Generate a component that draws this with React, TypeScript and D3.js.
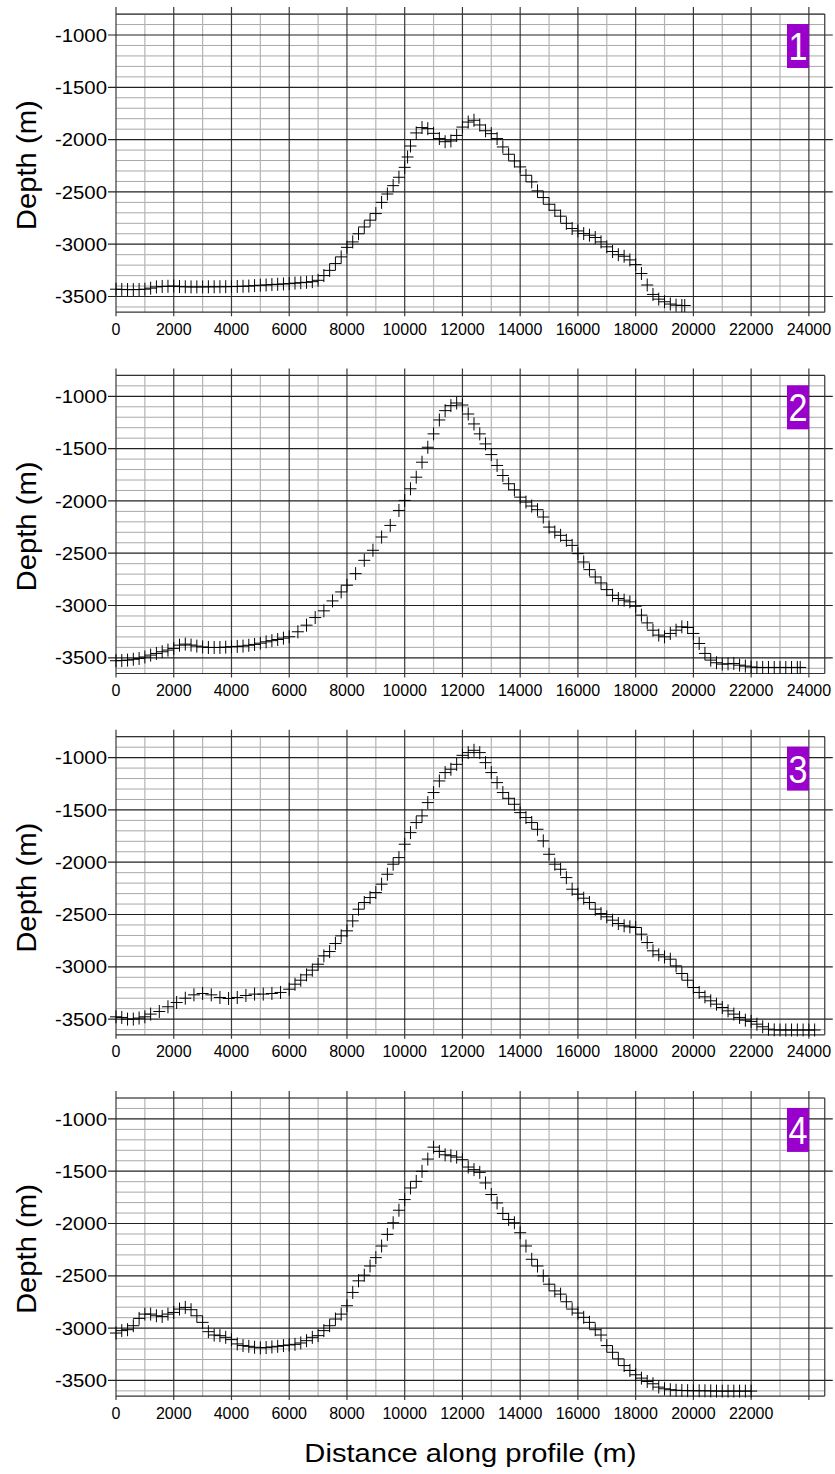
import * as d3 from "d3";

// depth profiles: [distance along profile (m), depth (m)]
const profile1: [number, number][] = [
  [0, -3430], [200, -3432], [400, -3434], [600, -3434], [800, -3433], [1000, -3430],
  [1200, -3420], [1400, -3408], [1600, -3404], [1800, -3402], [2000, -3400], [2200, -3405],
  [2400, -3407], [2600, -3408], [2800, -3408], [3000, -3408], [3200, -3407], [3400, -3407],
  [3600, -3406], [3800, -3406], [4000, -3405], [4200, -3404], [4400, -3402], [4600, -3400],
  [4800, -3396], [5000, -3392], [5200, -3390], [5400, -3386], [5600, -3383], [5800, -3380],
  [6000, -3377], [6200, -3372], [6400, -3368], [6600, -3364], [6800, -3358], [7000, -3345],
  [7200, -3300], [7400, -3250], [7600, -3185], [7800, -3121], [8000, -3030], [8200, -2978],
  [8400, -2900], [8600, -2835], [8800, -2770], [9000, -2707], [9200, -2600], [9400, -2520],
  [9600, -2440], [9800, -2360], [10000, -2265], [10100, -2166], [10200, -2061], [10400, -1936],
  [10600, -1885], [10800, -1895], [11000, -1940], [11200, -1990], [11400, -2020], [11600, -2013],
  [11800, -1960], [12000, -1880], [12200, -1832], [12400, -1815], [12600, -1860], [12800, -1915],
  [13000, -1943], [13200, -1990], [13400, -2070], [13600, -2140], [13800, -2204], [14000, -2261],
  [14200, -2341], [14400, -2404], [14600, -2490], [14800, -2554], [15000, -2618], [15200, -2675],
  [15400, -2732], [15600, -2800], [15800, -2850], [16000, -2873], [16200, -2898], [16400, -2914],
  [16600, -2936], [16800, -2978], [17000, -3025], [17200, -3070], [17400, -3100], [17600, -3115],
  [17800, -3150], [18000, -3195], [18200, -3280], [18400, -3390], [18600, -3480], [18800, -3525],
  [19000, -3550], [19200, -3572], [19400, -3583], [19600, -3586], [19700, -3586],
];

const profile2: [number, number][] = [
  [0, -3528], [200, -3526], [400, -3522], [600, -3514], [800, -3506], [1000, -3492],
  [1200, -3474], [1400, -3458], [1600, -3442], [1800, -3426], [2000, -3410], [2200, -3379],
  [2400, -3369], [2600, -3378], [2800, -3388], [3000, -3396], [3200, -3401], [3400, -3401],
  [3600, -3401], [3800, -3398], [4000, -3394], [4200, -3391], [4400, -3388], [4600, -3380],
  [4800, -3372], [5000, -3360], [5200, -3347], [5400, -3336], [5600, -3325], [5800, -3312],
  [6000, -3299], [6300, -3251], [6600, -3188], [6900, -3115], [7200, -3051], [7500, -2956],
  [7800, -2870], [8000, -2806], [8300, -2695], [8600, -2568], [8900, -2472], [9200, -2345],
  [9500, -2234], [9800, -2091], [10000, -1995], [10200, -1884], [10400, -1773], [10600, -1630],
  [10800, -1487], [11000, -1359], [11200, -1226], [11400, -1137], [11600, -1089], [11800, -1064],
  [12000, -1083], [12200, -1169], [12400, -1264], [12600, -1359], [12800, -1455], [13000, -1557],
  [13200, -1661], [13400, -1757], [13600, -1836], [13800, -1894], [14000, -1964], [14200, -2011],
  [14400, -2049], [14600, -2084], [14800, -2154], [15000, -2250], [15200, -2297], [15400, -2329],
  [15600, -2377], [15800, -2425], [16000, -2504], [16200, -2584], [16400, -2657], [16600, -2727],
  [16800, -2784], [17000, -2848], [17200, -2902], [17400, -2933], [17600, -2949], [17800, -2965],
  [18000, -3007], [18200, -3092], [18400, -3166], [18600, -3236], [18800, -3283], [19000, -3299],
  [19200, -3267], [19400, -3236], [19600, -3204], [19800, -3210], [20000, -3267], [20200, -3363],
  [20400, -3458], [20600, -3522], [20800, -3547], [21000, -3560], [21200, -3558], [21400, -3554],
  [21600, -3570], [21800, -3579], [22000, -3588], [22200, -3592], [22400, -3592], [22600, -3592],
  [22800, -3592], [23000, -3592], [23200, -3592], [23400, -3592], [23600, -3592], [23700, -3592],
];

const profile3: [number, number][] = [
  [0, -3478], [200, -3484], [400, -3500], [600, -3500], [800, -3490], [1000, -3478],
  [1200, -3452], [1500, -3427], [1800, -3382], [2100, -3341], [2400, -3300], [2700, -3268],
  [3000, -3255], [3300, -3268], [3600, -3293], [3900, -3303], [4200, -3293], [4500, -3274],
  [4800, -3261], [5100, -3261], [5400, -3255], [5700, -3245], [6000, -3214], [6200, -3166],
  [6400, -3128], [6600, -3077], [6800, -3032], [7000, -2975], [7200, -2895], [7400, -2854],
  [7600, -2777], [7800, -2704], [8000, -2656], [8200, -2561], [8400, -2449], [8600, -2385],
  [8800, -2338], [9000, -2290], [9200, -2210], [9400, -2115], [9600, -2019], [9800, -1956],
  [10000, -1828], [10200, -1717], [10400, -1621], [10600, -1557], [10800, -1430], [11000, -1334],
  [11200, -1223], [11400, -1143], [11600, -1111], [11800, -1064], [12000, -978], [12200, -952],
  [12400, -930], [12600, -952], [12800, -1048], [13000, -1143], [13200, -1239], [13400, -1334],
  [13600, -1389], [13800, -1446], [14000, -1526], [14200, -1573], [14400, -1621], [14600, -1685],
  [14800, -1796], [15000, -1924], [15200, -2019], [15400, -2067], [15600, -2147], [15800, -2258],
  [16000, -2306], [16200, -2344], [16400, -2385], [16600, -2449], [16800, -2491], [17000, -2522],
  [17200, -2554], [17400, -2586], [17600, -2608], [17800, -2618], [18000, -2624], [18200, -2688],
  [18400, -2768], [18600, -2847], [18800, -2885], [19000, -2905], [19200, -2927], [19400, -2991],
  [19600, -3064], [19800, -3128], [20000, -3198], [20200, -3245], [20400, -3287], [20600, -3325],
  [20800, -3357], [21000, -3389], [21200, -3421], [21400, -3452], [21600, -3484], [21800, -3510],
  [22000, -3522], [22200, -3548], [22400, -3573], [22600, -3596], [22800, -3603], [23000, -3604],
  [23200, -3604], [23400, -3604], [23600, -3604], [23800, -3604], [24000, -3604], [24200, -3604],
];

const profile4: [number, number][] = [
  [0, -3047], [200, -3024], [400, -3015], [600, -2977], [800, -2907], [1000, -2866],
  [1200, -2866], [1400, -2882], [1600, -2888], [1800, -2866], [2000, -2850], [2200, -2818],
  [2400, -2802], [2600, -2824], [2800, -2882], [3000, -2945], [3200, -3034], [3400, -3066],
  [3600, -3072], [3800, -3088], [4000, -3110], [4200, -3151], [4400, -3167], [4600, -3174],
  [4800, -3183], [5000, -3189], [5200, -3186], [5400, -3180], [5600, -3174], [5800, -3167],
  [6000, -3161], [6200, -3155], [6400, -3142], [6600, -3120], [6800, -3088], [7000, -3072],
  [7200, -3024], [7400, -2977], [7600, -2913], [7800, -2866], [8000, -2786], [8200, -2659],
  [8400, -2548], [8600, -2494], [8800, -2406], [9000, -2326], [9200, -2215], [9400, -2104],
  [9600, -1993], [9800, -1873], [10000, -1771], [10200, -1660], [10400, -1597], [10600, -1501],
  [10800, -1384], [11000, -1270], [11200, -1311], [11400, -1343], [11600, -1352], [11800, -1365],
  [12000, -1390], [12200, -1460], [12400, -1485], [12600, -1511], [12800, -1612], [13000, -1723],
  [13200, -1803], [13400, -1904], [13600, -1961], [13800, -1993], [14000, -2088], [14200, -2215],
  [14400, -2342], [14600, -2406], [14800, -2501], [15000, -2580], [15200, -2644], [15400, -2675],
  [15600, -2748], [15800, -2818], [16000, -2856], [16200, -2897], [16400, -2945], [16600, -3015],
  [16800, -3066], [17000, -3167], [17200, -3231], [17400, -3294], [17600, -3358], [17800, -3405],
  [18000, -3446], [18200, -3478], [18400, -3510], [18600, -3532], [18800, -3564], [19000, -3580],
  [19200, -3589], [19400, -3594], [19600, -3596], [19800, -3598], [20000, -3599], [20200, -3599],
  [20400, -3599], [20600, -3600], [20800, -3602], [21000, -3602], [21200, -3602], [21400, -3602],
  [21600, -3602], [21800, -3602], [22000, -3602],
];

const profiles = [profile1, profile2, profile3, profile4];
const panelLabels = ["1", "2", "3", "4"];
const depthTicks = [-1000, -1500, -2000, -2500, -3000, -3500];
const distTicks = [0, 2000, 4000, 6000, 8000, 10000, 12000, 14000, 16000, 18000, 20000, 22000, 24000];
const distTicksLast = [0, 2000, 4000, 6000, 8000, 10000, 12000, 14000, 16000, 18000, 20000, 22000];

const W = 835;
const H = 1474;
const X_MAX = 24550;
const D_TOP = -800;
const D_BOTTOM = -3650;
const FONT = "'Liberation Sans', Arial, Helvetica, sans-serif";

const x = d3.scaleLinear().domain([0, X_MAX]).range([116, 116 + X_MAX * 0.02887]);

const Panel = ({ index, data }: { index: number; data: [number, number][] }) => {
  const top = 14.1 + 361.3 * index;
  const y = d3.scaleLinear().domain([D_TOP, D_BOTTOM]).range([top, top + (D_TOP - D_BOTTOM) * 0.1046]);
  const x0 = x(0), x1 = x(X_MAX);
  const y0 = y(D_TOP), y1 = y(D_BOTTOM);

  const hLines = d3.range(D_TOP, D_BOTTOM, -100);
  const vLines = d3.range(0, X_MAX, 1000);
  const ticks = index === 3 ? distTicksLast : distTicks;

  const crosses = data
    .map(([d, z]) => {
      const px = x(d), py = y(z);
      return `M${px - 6},${py}h12M${px},${py - 6.5}v13`;
    })
    .join("");

  return (
    <g>
      {/* minor grid */}
      {hLines.filter(v => v % 500 !== 0).map(v => (
        <line key={"hm" + v} x1={x0} x2={x1} y1={y(v)} y2={y(v)} stroke="#a8a8a8" strokeWidth={1} />
      ))}
      {vLines.filter(v => v % 2000 !== 0).map(v => (
        <line key={"vm" + v} x1={x(v)} x2={x(v)} y1={y0} y2={y1} stroke="#b4b4b4" strokeWidth={1.2} />
      ))}
      {/* major grid with outside ticks */}
      {vLines.filter(v => v % 2000 === 0).map(v => (
        <line key={"vM" + v} x1={x(v)} x2={x(v)} y1={y0 - 7} y2={y1 + 4} stroke="#3a3a3a" strokeWidth={1.2} />
      ))}
      {hLines.filter(v => v % 500 === 0).map(v => (
        <line key={"hM" + v} x1={x0 - 8} x2={x1 + 8} y1={y(v)} y2={y(v)} stroke="#222" strokeWidth={1.2} />
      ))}
      {/* frame */}
      <line x1={x0} x2={x1} y1={y0} y2={y0} stroke="#333" strokeWidth={1.2} />
      <line x1={x0} x2={x1} y1={y1} y2={y1} stroke="#333" strokeWidth={1.2} />
      <line x1={x1} x2={x1} y1={y0} y2={y1} stroke="#333" strokeWidth={1.2} />

      {/* data markers */}
      <path d={crosses} fill="none" stroke="#000" strokeWidth={1} />

      {/* y tick labels */}
      {depthTicks.map(t => (
        <text key={"yt" + t} transform={`translate(107,${y(t)}) scale(1.1,1)`} dy="0.36em"
          textAnchor="end" fontSize={18.5} fontFamily={FONT} fill="#000">{t}</text>
      ))}
      {/* x tick labels */}
      {ticks.map(t => (
        <text key={"xt" + t} x={x(t)} y={y1 + 22.5} textAnchor="middle" fontSize={16}
          fontFamily={FONT} fill="#000">{t}</text>
      ))}

      {/* axis title */}
      <text transform={`translate(36,${(y0 + y1) / 2 + 2}) rotate(-90)`} textAnchor="middle"
        fontSize={28} fontFamily={FONT} fill="#000" textLength={130} lengthAdjust="spacingAndGlyphs">
        Depth (m)
      </text>

      {/* panel number */}
      <rect x={787} y={y(-1000) - 11} width={22} height={44} fill="#9900cc" />
      <text x={798} y={y(-1000) + 25} textAnchor="middle" fontSize={38} fontFamily={FONT} fill="#fff"
        transform={`translate(798,0) scale(0.9,1) translate(-798,0)`}>
        {panelLabels[index]}
      </text>
    </g>
  );
};

export default function App() {
  return (
    <svg width={W} height={H} style={{ display: "block", position: "absolute", left: 0, top: 0, background: "#fff" }}>
      <rect width={W} height={H} fill="#fff" />
      {profiles.map((p, i) => (
        <Panel key={i} index={i} data={p} />
      ))}
      <text x={x(0) / 2 + x(X_MAX) / 2} y={1462} textAnchor="middle" fontSize={26} fontFamily={FONT}
        fill="#000" textLength={332} lengthAdjust="spacingAndGlyphs">
        Distance along profile (m)
      </text>
    </svg>
  );
}
